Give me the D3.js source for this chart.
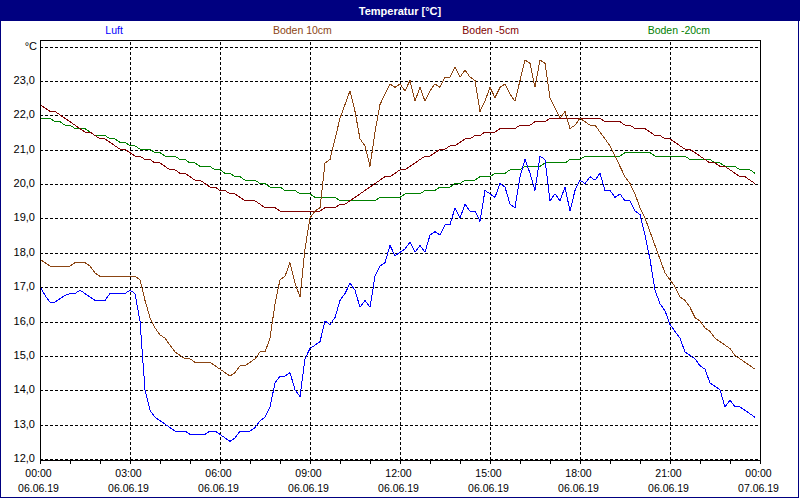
<!DOCTYPE html>
<html>
<head>
<meta charset="utf-8">
<script src="https://cdn.jsdelivr.net/npm/d3@7"></script>
<style>
    body { margin: 0; background: #fff; }
    svg { display: block; font-family: "Liberation Sans", Arial, sans-serif; }
</style>
</head>
<body>
<div class="chart-card"></div>
<script>
// measurement start and sampling interval (10 minutes)
let startTime = new Date(2019, 5, 6, 0, 0);
let endTime = new Date(2019, 5, 7, 0, 0);
let stepMinutes = 10;

let seriesNames = ["Luft", "Boden 10cm", "Boden -5cm", "Boden -20cm"];

let luft = [
    17.0, 16.75, 16.55, 16.55, 16.65, 16.75, 16.8, 16.8, 16.9, 16.8,
    16.7, 16.6, 16.6, 16.6, 16.8, 16.8, 16.8, 16.8, 16.9, 16.8,
    16.0, 14.0, 13.4, 13.2, 13.1, 13.0, 12.9, 12.8, 12.8, 12.8,
    12.7, 12.7, 12.7, 12.7, 12.8, 12.8, 12.7, 12.6, 12.5, 12.6,
    12.8, 12.8, 12.8, 12.9, 13.1, 13.2, 13.5, 14.2, 14.4, 14.4,
    14.5, 14.0, 13.8, 14.9, 15.2, 15.3, 15.4, 16.0, 15.9, 16.1,
    16.6, 16.8, 17.1, 16.9, 16.4, 16.6, 16.4, 17.3, 17.6, 17.7,
    18.2, 17.9, 18.0, 18.1, 18.3, 18.0, 18.2, 18.0, 18.5, 18.6,
    18.5, 18.8, 18.8, 19.3, 19.0, 19.4, 19.2, 19.2, 18.9, 19.8,
    19.7, 19.6, 20.0, 19.9, 19.4, 19.3, 20.2, 20.7, 20.3, 19.8,
    20.8, 20.7, 19.5, 19.7, 19.5, 19.9, 19.2, 19.8, 20.1, 20.0,
    20.2, 20.1, 20.3, 19.8, 19.8, 19.6, 19.7, 19.5, 19.5, 19.2,
    19.1, 18.5, 17.8, 16.9, 16.5, 16.3, 15.9, 15.7, 15.5, 15.1,
    15.0, 14.9, 14.7, 14.6, 14.2, 14.1, 14.0, 13.5, 13.7, 13.5,
    13.5, 13.4, 13.3, 13.2
];

let boden10 = [
    17.8, 17.7, 17.6, 17.6, 17.6, 17.6, 17.6, 17.7, 17.7, 17.7,
    17.6, 17.4, 17.3, 17.3, 17.3, 17.3, 17.3, 17.3, 17.3, 17.3,
    17.2, 16.6, 16.1, 15.8, 15.6, 15.5, 15.3, 15.1, 15.0, 14.9,
    14.9, 14.8, 14.8, 14.8, 14.8, 14.7, 14.6, 14.5, 14.4, 14.5,
    14.7, 14.7, 14.8, 14.9, 15.1, 15.1, 15.5, 16.5, 17.2, 17.3,
    17.7, 17.1, 16.7, 18.1, 19.0, 19.2, 19.3, 20.6, 20.7, 21.3,
    21.9, 22.3, 22.7, 22.1, 21.3, 21.1, 20.5, 21.5, 22.3, 22.6,
    22.9, 22.8, 22.9, 22.7, 23.0, 22.4, 22.8, 22.4, 22.7, 22.9,
    22.8, 23.1, 23.1, 23.4, 23.1, 23.3, 23.1, 23.0, 22.1, 22.4,
    22.8, 22.5, 22.8, 22.9, 22.6, 22.4, 23.0, 23.6, 23.5, 22.8,
    23.6, 23.5, 22.5, 22.2, 21.9, 22.1, 21.6, 21.7, 21.9, 21.8,
    21.7, 21.7, 21.5, 21.3, 21.1, 20.8, 20.5, 20.2, 20.0, 19.7,
    19.3, 19.0, 18.6, 18.2, 17.8, 17.4, 17.2, 17.0, 16.7, 16.6,
    16.4, 16.1, 16.0, 15.8, 15.7, 15.5, 15.4, 15.3, 15.2, 15.0,
    14.9, 14.8, 14.7, 14.6
];

let bodenMinus5 = [
    22.3, 22.2, 22.1, 22.1, 22.0, 21.9, 21.8, 21.7, 21.6, 21.5,
    21.5, 21.4, 21.3, 21.3, 21.2, 21.1, 21.0, 21.0, 20.9, 20.8,
    20.8, 20.7, 20.7, 20.6, 20.6, 20.5, 20.4, 20.4, 20.3, 20.3,
    20.2, 20.1, 20.1, 20.0, 19.9, 19.9, 19.8, 19.8, 19.7, 19.7,
    19.6, 19.5, 19.5, 19.5, 19.4, 19.3, 19.3, 19.3, 19.2, 19.2,
    19.2, 19.2, 19.2, 19.2, 19.2, 19.2, 19.2, 19.3, 19.3, 19.3,
    19.4, 19.4, 19.5, 19.6, 19.7, 19.8, 19.9, 20.0, 20.1, 20.2,
    20.2, 20.3, 20.4, 20.4, 20.5, 20.6, 20.7, 20.8, 20.8, 20.9,
    21.0, 21.0, 21.1, 21.1, 21.2, 21.3, 21.3, 21.4, 21.4, 21.5,
    21.5, 21.5, 21.6, 21.6, 21.6, 21.6, 21.7, 21.7, 21.7, 21.8,
    21.8, 21.8, 21.9, 21.9, 21.9, 21.9, 21.9, 21.9, 21.9, 21.9,
    21.9, 21.9, 21.9, 21.8, 21.8, 21.8, 21.8, 21.7, 21.7, 21.6,
    21.6, 21.6, 21.5, 21.4, 21.4, 21.3, 21.3, 21.2, 21.1, 21.0,
    21.0, 20.9, 20.8, 20.7, 20.6, 20.6, 20.5, 20.5, 20.4, 20.3,
    20.2, 20.2, 20.1, 20.0
];

let bodenMinus20 = [
    21.9, 21.9, 21.9, 21.8, 21.8, 21.7, 21.7, 21.6, 21.6, 21.6,
    21.5, 21.4, 21.4, 21.4, 21.3, 21.3, 21.2, 21.2, 21.1, 21.1,
    21.0, 21.0, 21.0, 20.9, 20.9, 20.8, 20.8, 20.8, 20.7, 20.7,
    20.6, 20.6, 20.5, 20.5, 20.5, 20.4, 20.4, 20.3, 20.3, 20.2,
    20.2, 20.1, 20.1, 20.1, 20.0, 20.0, 19.9, 19.9, 19.9, 19.8,
    19.8, 19.8, 19.7, 19.7, 19.7, 19.6, 19.6, 19.6, 19.6, 19.6,
    19.5, 19.5, 19.5, 19.5, 19.5, 19.5, 19.5, 19.5, 19.6, 19.6,
    19.6, 19.6, 19.6, 19.7, 19.7, 19.7, 19.7, 19.8, 19.8, 19.8,
    19.9, 19.9, 19.9, 20.0, 20.0, 20.1, 20.1, 20.1, 20.2, 20.2,
    20.2, 20.3, 20.3, 20.3, 20.4, 20.4, 20.4, 20.5, 20.5, 20.5,
    20.5, 20.6, 20.6, 20.6, 20.6, 20.6, 20.7, 20.7, 20.7, 20.8,
    20.8, 20.8, 20.8, 20.8, 20.8, 20.8, 20.8, 20.9, 20.9, 20.9,
    20.9, 20.9, 20.9, 20.8, 20.8, 20.8, 20.8, 20.8, 20.8, 20.8,
    20.7, 20.7, 20.7, 20.7, 20.7, 20.6, 20.6, 20.5, 20.5, 20.5,
    20.4, 20.4, 20.4, 20.3
];

// y ticks 12..24, the top one carries the unit instead of a number
let yTickValues = [12, 13, 14, 15, 16, 17, 18, 19, 20, 21, 22, 23, 24];
let yUnitLabel = "°C";

let seriesColors = ["#0000ff", "#8b4513", "#800000", "#008000"];

createTempChart = () => {
    let width = 800, height = 500;
    let left = 40, right = 760, top = 40, bottom = 460;

    let svg = d3.select(".chart-card")
        .append("svg")
        .attr("width", width)
        .attr("height", height);

    // outer frame + title bar
    svg.append("rect")
        .attr("x", 0.5).attr("y", 0.5)
        .attr("width", 798).attr("height", 497)
        .attr("fill", "#fff")
        .attr("stroke", "#000080");

    svg.append("rect")
        .attr("x", 0).attr("y", 0)
        .attr("width", width).attr("height", 21)
        .attr("fill", "#000080");

    svg.append("text")
        .attr("x", 400).attr("y", 14.5)
        .attr("text-anchor", "middle")
        .attr("fill", "#fff")
        .attr("font-weight", "bold")
        .attr("font-size", "11px")
        .text("Temperatur [°C]");

    // scales
    let xScale = d3.scaleTime()
        .domain([startTime, endTime])
        .range([left, right]);

    let yScale = d3.scaleLinear()
        .domain([12, 23])
        .range([458.5, 80.5]);

    let fmt = d3.formatLocale({ decimal: ",", thousands: ".", grouping: [3], currency: ["", "€"] }).format(".1f");

    // grid
    let gridY = svg.append("g")
        .attr("transform", "translate(" + left + ",0)")
        .call(d3.axisLeft(yScale).tickValues(yTickValues).tickSize(-(right - left)).tickFormat(""));
    gridY.select(".domain").remove();
    gridY.selectAll("line")
        .attr("transform", d => "translate(0," + (Math.floor(yScale(d)) + 0.5 - yScale(d)) + ")")
        .attr("stroke", "#000")
        .attr("stroke-dasharray", "3,2")
        .attr("shape-rendering", "crispEdges");

    let gridX = svg.append("g")
        .attr("transform", "translate(0," + bottom + ")")
        .call(d3.axisBottom(xScale).ticks(d3.timeHour.every(3)).tickSize(-(bottom - top)).tickFormat(""));
    gridX.select(".domain").remove();
    gridX.selectAll("line")
        .attr("stroke", "#000")
        .attr("stroke-dasharray", "3,2")
        .attr("shape-rendering", "crispEdges");

    // y labels
    svg.append("g")
        .selectAll("text")
        .data(yTickValues)
        .enter()
        .append("text")
        .attr("x", d => d === 24 ? 37 : 35)
        .attr("y", d => Math.floor(yScale(d)) + 4)
        .attr("text-anchor", "end")
        .attr("font-size", "11px")
        .attr("fill", "#000")
        .text(d => d === 24 ? yUnitLabel : fmt(d));

    // series lines
    let timeOf = i => d3.timeMinute.offset(startTime, i * stepMinutes);
    let line = d3.line()
        .x((d, i) => xScale(timeOf(i)))
        .y(d => yScale(d));

    let allSeries = [luft, boden10, bodenMinus5, bodenMinus20];
    let drawOrder = [3, 2, 1, 0];
    drawOrder.forEach(k => {
        svg.append("path")
            .datum(allSeries[k])
            .attr("d", line)
            .attr("fill", "none")
            .attr("stroke", seriesColors[k])
            .attr("stroke-width", 1)
            .attr("shape-rendering", "crispEdges");
    });

    // plot frame
    svg.append("rect")
        .attr("x", left + 0.5).attr("y", top + 0.5)
        .attr("width", right - left).attr("height", bottom - top)
        .attr("fill", "none")
        .attr("stroke", "#000")
        .attr("shape-rendering", "crispEdges");

    // x axis: hourly ticks, labels every 3 hours
    let minor = svg.append("g")
        .attr("transform", "translate(0," + (bottom + 0.5) + ")")
        .call(d3.axisBottom(xScale).ticks(d3.timeHour.every(1)).tickSize(3).tickFormat(""));
    minor.select(".domain").remove();
    minor.selectAll("line").attr("stroke", "#000").attr("shape-rendering", "crispEdges");

    let timeFmt = d3.timeFormat("%H:%M");
    let dateFmt = d3.timeFormat("%d.%m.%y");
    let labels = svg.append("g")
        .selectAll("text")
        .data(xScale.ticks(d3.timeHour.every(3)))
        .enter()
        .append("text")
        .attr("text-anchor", "middle")
        .attr("font-size", "10.5px")
        .attr("fill", "#000");
    labels.append("tspan")
        .attr("x", d => xScale(d) - 1.5)
        .attr("y", 477)
        .text(d => timeFmt(d));
    labels.append("tspan")
        .attr("x", d => xScale(d) - 1.5)
        .attr("y", 492)
        .text(d => dateFmt(d));

    // legend row
    let legendX = d3.scaleBand()
        .domain(seriesNames)
        .range([20, 773]);
    svg.append("g")
        .selectAll("text")
        .data(seriesNames)
        .enter()
        .append("text")
        .attr("x", d => legendX(d) + legendX.bandwidth() / 2)
        .attr("y", 34)
        .attr("text-anchor", "middle")
        .attr("font-size", "10.5px")
        .attr("fill", (d, i) => seriesColors[i])
        .text(d => d);
}

createTempChart()
</script>
</body>
</html>
